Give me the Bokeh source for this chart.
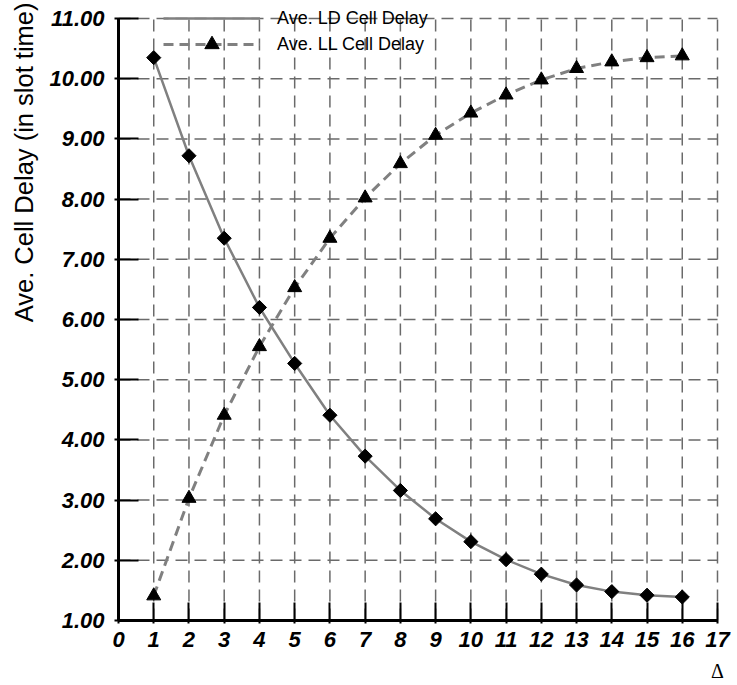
import math
from bokeh.plotting import figure
from bokeh.models import (Range1d, FixedTicker, NumeralTickFormatter, Legend, LegendItem,
                          Title, ColumnDataSource, LinearAxis)
from bokeh.embed import file_html
from bokeh.resources import INLINE

# ---- data ----
delta = [1, 2, 3, 4, 5, 6, 7, 8, 9, 10, 11, 12, 13, 14, 15, 16]
ld_delay = [10.35, 8.72, 7.35, 6.20, 5.27, 4.41, 3.73, 3.16, 2.69, 2.31, 2.01, 1.77, 1.59, 1.48, 1.42, 1.39]
ll_delay = [1.41, 3.03, 4.41, 5.55, 6.53, 7.35, 8.02, 8.59, 9.06, 9.43, 9.73, 9.98, 10.17, 10.28, 10.35, 10.38]
x_ticks = list(range(0, 18))
y_ticks = [1, 2, 3, 4, 5, 6, 7, 8, 9, 10, 11]
series_names = ["Ave. LD Cell Delay", "Ave. LL Cell Delay"]
y_title = "Ave. Cell Delay (in slot time)"
x_title = "\u0394"

x_min, x_max = x_ticks[0], x_ticks[-1]
y_min, y_max = y_ticks[0], y_ticks[-1]

src = ColumnDataSource(dict(x=delta, ld=ld_delay, ll=ll_delay))

# frame: x 0..17 -> 118..717 px, y 1..11 -> 620..18 px (extra room above/right kept inside frame)
p = figure(width=737, height=685, output_backend="svg", toolbar_location=None,
           x_range=Range1d(x_min, x_max + 0.142), y_range=Range1d(y_min, y_max + 0.299),
           min_border_left=118, min_border_right=15, min_border_top=0, min_border_bottom=65)
p.outline_line_color = None
p.background_fill_color = "white"
p.border_fill_color = "white"
p.xgrid.visible = False
p.ygrid.visible = False

# dashed grid from the tick lists
vx = x_ticks[1:]
p.segment(x0=vx, y0=[y_min] * len(vx), x1=vx, y1=[y_max] * len(vx),
          line_color="#6a6a6a", line_width=1.5, line_dash="12 7")
hy = y_ticks[1:]
p.segment(x0=[x_min] * len(hy), y0=hy, x1=[x_max] * len(hy), y1=hy,
          line_color="#6a6a6a", line_width=1.5, line_dash="12 7")

# axes
p.xaxis.ticker = FixedTicker(ticks=x_ticks)
p.yaxis.ticker = FixedTicker(ticks=y_ticks)
p.xaxis.bounds = (x_min, x_max)
p.yaxis.bounds = (y_min, y_max)
p.yaxis.formatter = NumeralTickFormatter(format="0.00")
for ax in (p.xaxis[0], p.yaxis[0]):
    ax.axis_line_color = "black"
    ax.axis_line_width = 3
    ax.major_tick_line_color = "black"
    ax.major_tick_line_width = 2
    ax.minor_tick_line_color = None
    ax.major_label_text_font = "Liberation Sans"
    ax.major_label_text_font_style = "bold italic"
    ax.major_label_text_font_size = "22px"
    ax.major_label_text_color = "black"
p.yaxis.major_tick_in = 20
p.yaxis.major_tick_out = 4
p.yaxis.major_label_standoff = 10
p.xaxis.major_tick_in = 18
p.xaxis.major_tick_out = 3
p.xaxis.major_label_standoff = 8

# x title (delta) shown at the right end, under the last tick label
dx = LinearAxis(ticker=FixedTicker(ticks=[x_max]), major_label_overrides={x_max: x_title},
                axis_line_color=None, major_tick_line_color=None, minor_tick_line_color=None,
                major_tick_in=0, major_tick_out=0, major_label_standoff=10,
                major_label_text_font="Liberation Serif", major_label_text_font_size="20px",
                major_label_text_font_style="normal", major_label_text_color="black")
p.add_layout(dx, "below")

# series
ld_line = p.line("x", "ld", source=src, line_color="#808080", line_width=2.5)
ld_pts = p.scatter("x", "ld", source=src, marker="square", size=10, angle=math.pi / 4,
                   fill_color="black", line_color="black")
ll_line = p.line("x", "ll", source=src, line_color="#808080", line_width=3, line_dash="10 6")
ll_pts = p.scatter("x", "ll", source=src, marker="triangle", size=14,
                   fill_color="black", line_color="black")
# legend-only key marker (no data) so the key shows a diamond
ld_key = p.scatter(x=[], y=[], marker="diamond", size=16,
                   fill_color="black", line_color="black")

common = dict(glyph_width=97, glyph_height=36, label_height=20, label_standoff=17,
              spacing=0, padding=0, margin=0, background_fill_alpha=0, border_line_alpha=0,
              label_text_font="Liberation Sans", label_text_font_size="18px",
              label_text_color="black")
leg1 = Legend(items=[LegendItem(label=series_names[0], renderers=[ld_line, ld_key])],
              location=(45, 584), **common)
leg2 = Legend(items=[LegendItem(label=series_names[1], renderers=[ll_line, ll_pts])],
              location=(45, 558), **common)
p.add_layout(leg1, "center")
p.add_layout(leg2, "center")

p.add_layout(Title(text=y_title, align="right", vertical_align="top",
                   text_font="Liberation Sans", text_font_size="25.5px",
                   text_font_style="normal", text_color="black",
                   standoff=14, offset=2), "left")

open("out.html", "w").write(file_html(p, INLINE))
